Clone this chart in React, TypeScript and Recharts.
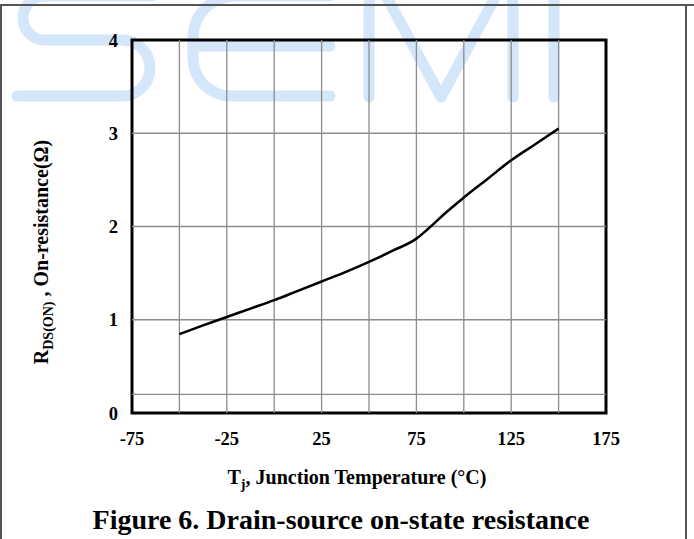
import React from "react";
import { LineChart, Line, XAxis, YAxis, ReferenceLine, ReferenceArea, Label } from "recharts";

// Junction temperature (°C) and on-resistance (Ω)
const temps = [-50, -37.5, -25, -12.5, 0, 12.5, 25, 37.5, 50, 62.5, 75, 82, 90, 100, 112.5, 125, 137.5, 150];
const rdsOn = [0.845, 0.94, 1.03, 1.12, 1.21, 1.31, 1.41, 1.51, 1.62, 1.74, 1.87, 1.99, 2.14, 2.31, 2.51, 2.71, 2.88, 3.05];

const xTicks = [-75, -25, 25, 75, 125, 175];
const yTicks = [0, 1, 2, 3, 4];
const xGrid = [-50, -25, 0, 25, 50, 75, 100, 125, 150];
const yGrid = [0.2, 1, 2, 3];

const data = temps.map((t, i) => ({ t, r: rdsOn[i] }));

const FONT = "'Liberation Serif', 'Times New Roman', serif";
const WM = "#d3e6fa";

const XTitle = (props: any) => {
  return (
    <text x={357} y={484} textAnchor="middle" fontFamily={FONT} fontWeight="bold" fontSize={20} fill="#000">
      T<tspan fontSize={14} dy={5}>j</tspan>
      <tspan fontSize={20} dy={-5}>, Junction Temperature (°C)</tspan>
    </text>
  );
};

const YTitle = () => {
  const cx = 48;
  const cy = 252;
  return (
    <text x={cx} y={cy} transform={`rotate(-90 ${cx} ${cy})`} textAnchor="middle" fontFamily={FONT} fontWeight="bold" fontSize={20} fill="#000">
      R<tspan fontSize={14} dy={5}>DS(ON)</tspan>
      <tspan fontSize={20} dy={-5}> , On-resistance(Ω)</tspan>
    </text>
  );
};

export default function App() {
  return (
    <div style={{ position: "absolute", left: 0, top: 0, width: 694, height: 539, background: "#fff" }}>
      <svg width={694} height={539} style={{ position: "absolute", left: 0, top: 0 }}>
        <g fill="none" stroke={WM} strokeWidth={11} strokeLinecap="round" strokeLinejoin="round">
          <path d="M 152,-4 L 45,-4 A 22,22 0 0 0 45,40 L 122,40 A 28,28 0 0 1 122,96 L 17,96" />
          <path d="M 330,-4 L 235,-4 A 42,42 0 0 0 193,38 L 193,58 A 38,38 0 0 0 231,96 L 330,96 M 193,46 L 330,46" />
          <path d="M 369,97 L 369,10 Q 369,-22 386,-4 L 441,97 L 496,-4 Q 513,-22 513,10 L 513,97" />
          <path d="M 554,-10 L 554,97" />
        </g>
        <line x1={0} y1={5} x2={694} y2={5} stroke="#555" strokeWidth={2} />
        <line x1={1} y1={5} x2={1} y2={539} stroke="#555" strokeWidth={2} />
        <line x1={686} y1={5} x2={686} y2={539} stroke="#555" strokeWidth={2} />
        <text x={341} y={529} textAnchor="middle" fontFamily={FONT} fontWeight="bold" fontSize={28} fill="#000">
          Figure 6. Drain-source on-state resistance
        </text>
      </svg>
      <div style={{ position: "absolute", left: 0, top: 0 }}>
        <LineChart width={694} height={539} data={data} margin={{ top: 40, right: 88, bottom: 86, left: 72 }}>
          <XAxis
            dataKey="t"
            type="number"
            domain={[-75, 175]}
            ticks={xTicks}
            axisLine={false}
            tickLine={false}
            tickMargin={13}
            height={40}
            interval={0}
            tick={{ fontFamily: FONT, fontWeight: "bold", fontSize: 18.5, fill: "#000" }}
          >
            <Label content={<XTitle />} />
          </XAxis>
          <YAxis
            type="number"
            domain={[0, 4]}
            ticks={yTicks}
            axisLine={false}
            tickLine={false}
            tickMargin={8}
            width={60}
            interval={0}
            tick={{ fontFamily: FONT, fontWeight: "bold", fontSize: 18.5, fill: "#000" }}
          >
            <Label content={<YTitle />} />
          </YAxis>
          {xGrid.map((v) => (
            <ReferenceLine key={"x" + v} x={v} stroke="#8c8c8c" strokeWidth={1.3} />
          ))}
          {yGrid.map((v) => (
            <ReferenceLine key={"y" + v} y={v} stroke="#8c8c8c" strokeWidth={1.3} />
          ))}
          <ReferenceArea x1={-75} x2={175} y1={0} y2={4} fill="none" fillOpacity={0} stroke="#000" strokeWidth={3} />
          <Line
            type="monotone"
            dataKey="r"
            stroke="#000"
            strokeWidth={2.5}
            dot={false}
            activeDot={false}
            isAnimationActive={false}
          />
        </LineChart>
      </div>
    </div>
  );
}
